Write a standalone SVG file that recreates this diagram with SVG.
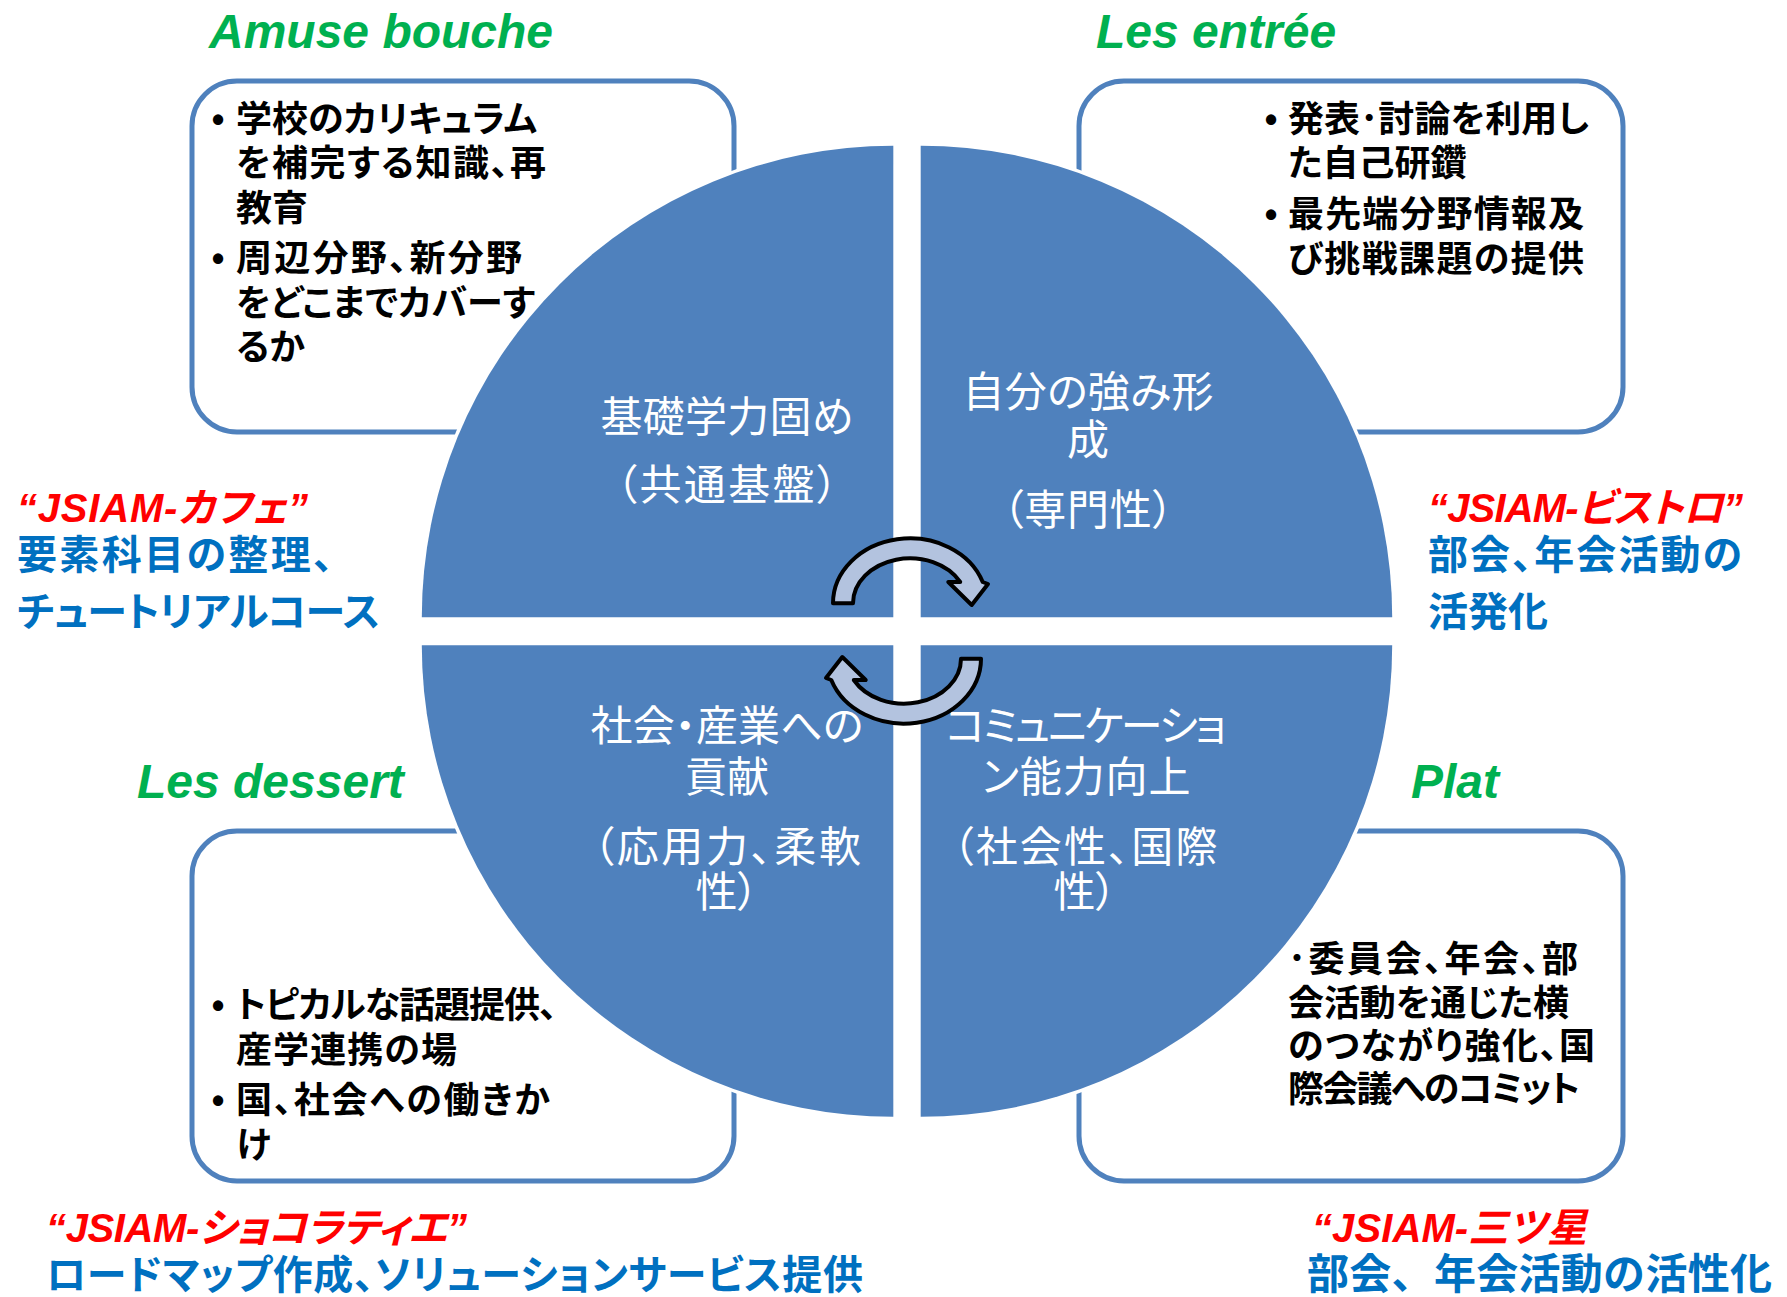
<svg xmlns="http://www.w3.org/2000/svg" xmlns:xlink="http://www.w3.org/1999/xlink" width="1787" height="1297" viewBox="0 0 1787 1297">
<defs>
<style>
.title{font-family:"Liberation Sans",Arial,sans-serif;font-weight:bold;font-style:italic;font-size:48px;fill:#00B050}
.red{font-family:"Liberation Sans",Arial,"Noto Sans CJK JP",sans-serif;font-weight:bold;font-style:italic;font-size:40px;fill:#FF0000;font-feature-settings:"palt"}
.blue{font-family:"Noto Sans CJK JP",sans-serif;font-weight:bold;font-size:40px;fill:#0070C0;font-feature-settings:"palt"}
.box{fill:#FFFFFF;stroke:#4F81BD;stroke-width:5}
.bt{font-family:"Noto Sans CJK JP",sans-serif;font-weight:bold;font-size:36px;fill:#000000;font-feature-settings:"palt"}
.bul{font-family:"Liberation Sans",Arial,sans-serif;font-weight:bold;font-size:36px;fill:#000000;text-anchor:middle}
.q{fill:#4F81BD}
.halo{fill:none;stroke:#FFFFFF;stroke-width:7}
.ct{font-family:"Noto Sans CJK JP",sans-serif;font-size:42px;fill:#FFFFFF;text-anchor:middle;font-feature-settings:"palt"}
.arr{fill:#B3C3DF;stroke:#000000;stroke-width:4;stroke-linejoin:round}
</style>
<path id="arrowShape" d="M 833 603.3 A 77 65 0 0 1 982.7 582 L 988 584 L 971.7 605 L 948.3 582 L 960.2 582 A 57 45 0 0 0 853 603.3 Z"/>
</defs>
<rect width="1787" height="1297" fill="#FFFFFF"/>

<g id="box-amuse">
<rect class="box" x="192" y="81" width="542" height="351" rx="45" ry="45"/>
</g>
<g id="box-entree">
<rect class="box" x="1079" y="81" width="544" height="351" rx="45" ry="45"/>
</g>
<g id="box-dessert">
<rect class="box" x="192" y="831" width="542" height="350" rx="45" ry="45"/>
</g>
<g id="box-plat">
<rect class="box" x="1079" y="831" width="544" height="350" rx="45" ry="45"/>
</g>

<g id="circle">
<path class="halo" d="M 893.3 617.3 L 421.8 617.3 A 471.5 471.5 0 0 1 893.3 145.8 Z"/>
<path class="halo" d="M 920.7 617.3 L 920.7 145.8 A 471.5 471.5 0 0 1 1392.2 617.3 Z"/>
<path class="halo" d="M 920.7 645.3 L 1392.2 645.3 A 471.5 471.5 0 0 1 920.7 1116.8 Z"/>
<path class="halo" d="M 893.3 645.3 L 893.3 1116.8 A 471.5 471.5 0 0 1 421.8 645.3 Z"/>
</g>
<g id="quadrant-tl">
<path class="q" d="M 893.3 617.3 L 421.8 617.3 A 471.5 471.5 0 0 1 893.3 145.8 Z"/>
<text class="ct" x="727" y="432" textLength="253">基礎学力固め</text>
<text class="ct" x="727" y="500" textLength="222">（共通基盤）</text>
</g>
<g id="quadrant-tr">
<path class="q" d="M 920.7 617.3 L 920.7 145.8 A 471.5 471.5 0 0 1 1392.2 617.3 Z"/>
<text class="ct" x="1088" y="407" textLength="251">自分の強み形</text>
<text class="ct" x="1088" y="455">成</text>
<text class="ct" x="1088" y="525" textLength="171">（専門性）</text>
</g>
<g id="quadrant-br">
<path class="q" d="M 920.7 645.3 L 1392.2 645.3 A 471.5 471.5 0 0 1 920.7 1116.8 Z"/>
<text class="ct" x="1086" y="741" textLength="281">コミュニケーショ</text>
<text class="ct" x="1086" y="792" textLength="209">ン能力向上</text>
<text class="ct" x="1085" y="862" textLength="265">（社会性、国際</text>
<text class="ct" x="1085" y="907">性）</text>
</g>
<g id="quadrant-bl">
<path class="q" d="M 893.3 645.3 L 893.3 1116.8 A 471.5 471.5 0 0 1 421.8 645.3 Z"/>
<text class="ct" x="727" y="741" textLength="273">社会・産業への</text>
<text class="ct" x="727" y="792">貢献</text>
<text class="ct" x="727" y="862" textLength="268">（応用力、柔軟</text>
<text class="ct" x="727" y="907">性）</text>
</g>

<g id="connectors">
<use xlink:href="#arrowShape" href="#arrowShape" class="arr"/>
<use xlink:href="#arrowShape" href="#arrowShape" class="arr" transform="rotate(180 907 631)"/>
</g>

<g id="text-amuse">
<text class="bul" x="218" y="132">•</text>
<text class="bt" x="236" y="132" textLength="301">学校のカリキュラム</text>
<text class="bt" x="236" y="176" textLength="310">を補完する知識、再</text>
<text class="bt" x="236" y="221">教育</text>
<text class="bul" x="218" y="271">•</text>
<text class="bt" x="236" y="271" textLength="286">周辺分野、新分野</text>
<text class="bt" x="236" y="316" textLength="299">をどこまでカバーす</text>
<text class="bt" x="236" y="360">るか</text>
</g>
<g id="text-entree">
<text class="bul" x="1271" y="132">•</text>
<text class="bt" x="1288" y="132" textLength="301">発表･討論を利用し</text>
<text class="bt" x="1288" y="176">た自己研鑽</text>
<text class="bul" x="1271" y="227">•</text>
<text class="bt" x="1288" y="227" textLength="296">最先端分野情報及</text>
<text class="bt" x="1288" y="272" textLength="296">び挑戦課題の提供</text>
</g>
<g id="text-dessert">
<text class="bul" x="218" y="1018">•</text>
<text class="bt" x="236" y="1018" textLength="321">トピカルな話題提供、</text>
<text class="bt" x="236" y="1063" textLength="221">産学連携の場</text>
<text class="bul" x="218" y="1113">•</text>
<text class="bt" x="236" y="1113" textLength="314">国、社会への働きか</text>
<text class="bt" x="236" y="1158">け</text>
</g>
<g id="text-plat">
<text class="bt" x="1288" y="972" textLength="290">･委員会、年会、部</text>
<text class="bt" x="1288" y="1016" textLength="281">会活動を通じた横</text>
<text class="bt" x="1288" y="1059" textLength="307">のつながり強化、国</text>
<text class="bt" x="1288" y="1102" textLength="292">際会議へのコミット</text>
</g>

<g id="titles">
<text class="title" x="209" y="48">Amuse bouche</text>
<text class="title" x="1096" y="48">Les entrée</text>
<text class="title" x="137" y="798">Les dessert</text>
<text class="title" x="1411" y="798">Plat</text>
</g>

<g id="label-cafe">
<text class="red" x="17" y="522" textLength="291">“JSIAM-カフェ”</text>
<text class="blue" x="17" y="569" textLength="316">要素科目の整理、</text>
<text class="blue" x="17" y="626" textLength="363">チュートリアルコース</text>
</g>
<g id="label-bistro">
<text class="red" x="1428" y="522" textLength="315">“JSIAM-ビストロ”</text>
<text class="blue" x="1428" y="569" textLength="314">部会、年会活動の</text>
<text class="blue" x="1428" y="626">活発化</text>
</g>
<g id="label-chocolatier">
<text class="red" x="46" y="1242" textLength="421">“JSIAM-ショコラティエ”</text>
<text class="blue" x="46" y="1289" textLength="817">ロードマップ作成、ソリューションサービス提供</text>
</g>
<g id="label-mitsuboshi">
<text class="red" x="1312" y="1242" textLength="275">“JSIAM-三ツ星</text>
<text class="blue" x="1307" y="1289" textLength="465" style="font-size:42px;font-feature-settings:normal">部会、年会活動の活性化</text>
</g>
</svg>
